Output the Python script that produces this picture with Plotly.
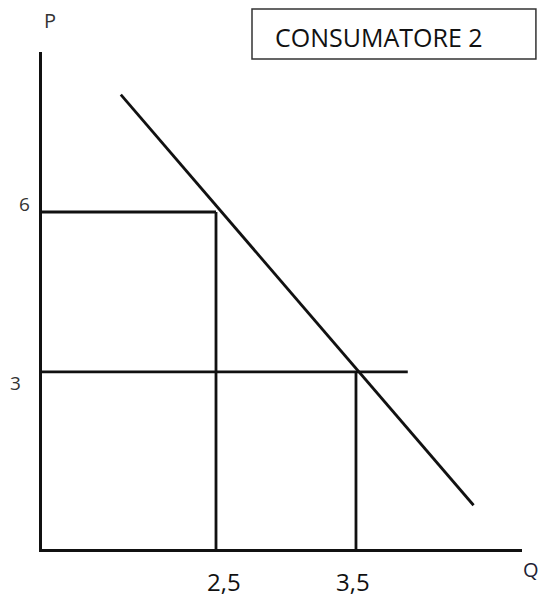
import plotly.graph_objects as go

# ---- data ----
q_points = [2.5, 3.5]          # quantities marked on Q axis
p_points = [6, 3]              # prices marked on P axis
q_labels = ["2,5", "3,5"]
p_labels = ["6", "3"]
demand_q = [1.82, 4.34]        # demand line end points (Q)
demand_p = [8.2, 0.5]          # demand line end points (P)
price3_line_end_q = 3.87       # horizontal line at P=3 extends to here
title_text = "CONSUMATORE 2"
x_axis_label = "Q"
y_axis_label = "P"

x_range = [1.257, 4.686]
y_range = [-0.32, 9.0]

LW = 2.8
col = "#111111"
fig = go.Figure()

# demand line
fig.add_trace(go.Scatter(x=demand_q, y=demand_p, mode="lines",
                         line=dict(color=col, width=LW), hoverinfo="skip"))
# horizontal at P=6 to Q=2.5
fig.add_trace(go.Scatter(x=[x_range[0], q_points[0]], y=[p_points[0], p_points[0]], mode="lines",
                         line=dict(color=col, width=LW), hoverinfo="skip"))
# vertical at Q=2.5 down to axis
fig.add_trace(go.Scatter(x=[q_points[0], q_points[0]], y=[y_range[0], p_points[0]], mode="lines",
                         line=dict(color=col, width=LW), hoverinfo="skip"))
# horizontal at P=3
fig.add_trace(go.Scatter(x=[x_range[0], price3_line_end_q], y=[p_points[1], p_points[1]], mode="lines",
                         line=dict(color=col, width=LW), hoverinfo="skip"))
# vertical at Q=3.5
fig.add_trace(go.Scatter(x=[q_points[1], q_points[1]], y=[y_range[0], p_points[1]], mode="lines",
                         line=dict(color=col, width=LW), hoverinfo="skip"))

font_main = "Open Sans, Liberation Sans, sans-serif"


def ann(**kw):
    base = dict(showarrow=False, xanchor="center", yanchor="middle")
    base.update(kw)
    return base


annotations = [
    # P tick labels
    ann(x=-0.0375, xref="paper", y=p_points[0], yref="y", yshift=8,
        text=p_labels[0], font=dict(size=19, color="#333", family=font_main)),
    ann(x=-0.056, xref="paper", y=p_points[1], yref="y", yshift=-11,
        text=p_labels[1], font=dict(size=19, color="#333", family=font_main)),
    # Q tick labels
    ann(x=q_points[0], xref="x", xshift=8, y=-0.066, yref="paper",
        text=q_labels[0], font=dict(size=24, color="#111", family=font_main)),
    ann(x=q_points[1], xref="x", xshift=-3, y=-0.066, yref="paper",
        text=q_labels[1], font=dict(size=24, color="#111", family=font_main)),
    # axis letters
    ann(x=0.017, xref="paper", y=1.064, yref="paper", text=y_axis_label,
        font=dict(size=20, color="#333", family=font_main)),
    ann(x=1.019, xref="paper", y=-0.042, yref="paper", text=x_axis_label,
        font=dict(size=20, color="#223", family=font_main)),
    # title box text
    ann(x=(273 - 42) / 480, xref="paper", xanchor="left", y=1.030, yref="paper",
        text=title_text, font=dict(size=25, color="#111", family=font_main)),
]

shapes = [dict(type="rect", xref="paper", yref="paper",
               x0=0.4375, x1=1.029, y0=0.986, y1=1.0865,
               line=dict(color="#333", width=1.5), fillcolor="rgba(0,0,0,0)")]

fig.update_layout(
    width=543, height=598,
    margin=dict(l=42, r=21, t=52, b=49),
    paper_bgcolor="white", plot_bgcolor="white",
    showlegend=False,
    annotations=annotations,
    shapes=shapes,
)
fig.update_xaxes(range=x_range, showgrid=False, zeroline=False, showticklabels=False, ticks="",
                 showline=True, linecolor=col, linewidth=3)
fig.update_yaxes(range=y_range, showgrid=False, zeroline=False, showticklabels=False, ticks="",
                 showline=True, linecolor=col, linewidth=3)

fig.write_html("out.html", config={"displayModeBar": False},
               post_script="document.body.style.margin='0';")
